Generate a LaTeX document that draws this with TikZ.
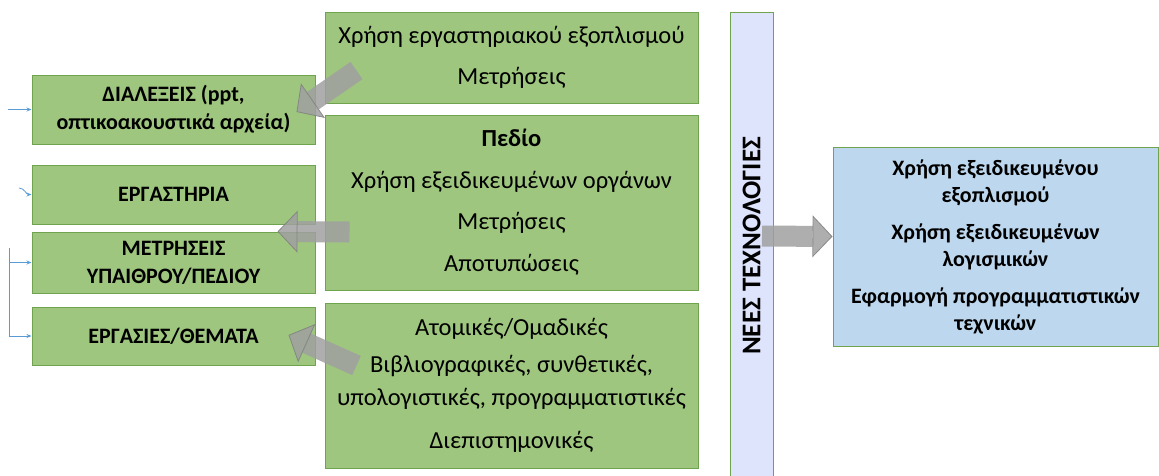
\documentclass[tikz,border=0pt]{standalone}
\usepackage{fontspec}
\setmainfont{Carlito}
\usetikzlibrary{arrows.meta}
\definecolor{boxgreen}{RGB}{158,198,126}
\definecolor{boxedge}{RGB}{112,163,78}
\definecolor{barfill}{RGB}{222,228,252}
\definecolor{bluefill}{RGB}{189,215,238}
\definecolor{arrowgray}{RGB}{160,160,160}
\definecolor{arrowedge}{RGB}{128,128,128}
\definecolor{feedblue}{RGB}{91,155,213}
\tikzset{
  greenbox/.style={draw=boxedge, fill=boxgreen, line width=1pt, align=center, inner sep=0pt},
  leftbox/.style={greenbox, minimum width=283pt, font=\fontsize{22}{28}\bfseries},
  midbox/.style={greenbox, minimum width=373pt, font=\fontsize{24.5}{33}\selectfont},
  bigarrow/.style={line width=21pt, draw=arrowgray, opacity=0.85,
    -{Triangle[length=20pt,width=42pt,line width=0.8pt,color=arrowedge,fill=arrowgray]}},
  feed/.style={draw=feedblue, line width=0.8pt, -{Stealth[length=5pt,width=4pt]}}
}
\begin{document}
\begin{tikzpicture}[x=1pt,y=-1pt]
  \useasboundingbox (0,0) rectangle (1159,475);
  % left column
  \node[leftbox, minimum height=69pt] (lect) at (173.5,109.5) {ΔΙΑΛΕΞΕΙΣ (ppt,\\ οπτικοακουστικά αρχεία)};
  \node[leftbox, minimum height=59pt] (lab) at (173.5,194.5) {ΕΡΓΑΣΤΗΡΙΑ};
  \node[leftbox, minimum height=61pt] (meas) at (173.5,262.5) {ΜΕΤΡΗΣΕΙΣ\\ ΥΠΑΙΘΡΟΥ/ΠΕΔΙΟΥ};
  \node[leftbox, minimum height=58pt] (tasks) at (173.5,336) {ΕΡΓΑΣΙΕΣ/ΘΕΜΑΤΑ};
  % middle column
  \node[midbox, minimum height=91pt] (equip) at (511.5,57.5)
    {Χρήση εργαστηριακού εξοπλισμού\\[8pt] Μετρήσεις};
  \node[midbox, minimum height=175pt] (field) at (511.5,202.5)
    {\textbf{Πεδίο}\\[9pt] Χρήση εξειδικευμένων οργάνων\\[8pt] Μετρήσεις\\[9pt] Αποτυπώσεις};
  \node[midbox, minimum height=165pt] (proj) at (511.5,385.5)
    {Ατομικές/Ομαδικές\\[4pt] Βιβλιογραφικές, συνθετικές,\\ υπολογιστικές, προγραμματιστικές\\[10pt] Διεπιστημονικές};
  % new technologies
  \node[draw=boxedge, fill=barfill, line width=1pt, rotate=90, minimum width=468pt, minimum height=43pt,
    font=\fontsize{27}{30}\bfseries] (tech) at (751.5,246) {ΝΕΕΣ ΤΕΧΝΟΛΟΓΙΕΣ};
  \node[draw=boxedge, fill=bluefill, line width=1pt, align=center, minimum width=325pt, minimum height=199pt,
    font=\fontsize{22}{27}\bfseries] (tools) at (995.5,246.5)
    {Χρήση εξειδικευμένου\\ εξοπλισμού\\[10pt] Χρήση εξειδικευμένων\\ λογισμικών\\[10pt] Εφαρμογή προγραμματιστικών\\ τεχνικών};
  % block arrows
  \draw[bigarrow] ([xshift=32pt,yshift=33pt]equip.south west) -- ([xshift=-19pt,yshift=-2.5pt]lect.east);
  \draw[bigarrow] ([xshift=25pt,yshift=-29.5pt]field.west) -- ([xshift=-38pt]meas.north east);
  \draw[bigarrow] ([xshift=32pt,yshift=20pt]proj.west) -- ([xshift=-27pt,yshift=1pt]tasks.east);
  \draw[bigarrow] ([xshift=10.5pt,yshift=10pt]tech.center) -- ([yshift=10pt]tools.west);
  % incoming lines
  \coordinate (inA) at (8,109.5);
  \coordinate (inB) at (19,188);
  \coordinate (inC) at (9,248);
  \draw[feed] (inA) -- (lect.west);
  \draw[feed] (inB) to[out=0,in=180] (lab.west);
  \draw[feed] (inC) |- (tasks.west);
  \draw[feed] (inC |- meas.west) -- (meas.west);
\end{tikzpicture}
\end{document}
